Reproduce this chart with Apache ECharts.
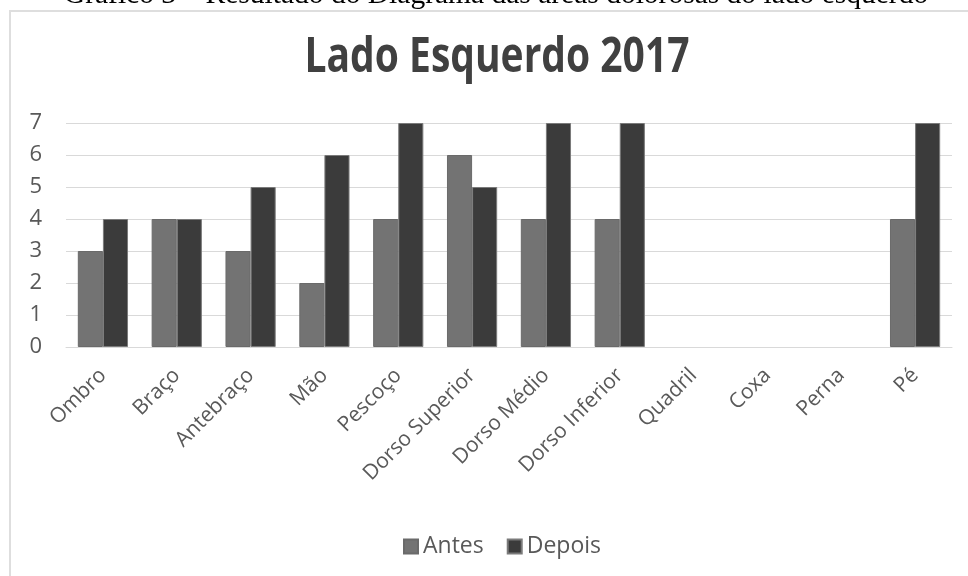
<!DOCTYPE html>
<html>
<head>
<meta charset="utf-8">
<script src="https://cdn.jsdelivr.net/npm/echarts@6/dist/echarts.min.js"></script>
<style>
html,body{margin:0;padding:0;background:#fff;}
#c{width:968px;height:576px;}
</style>
</head>
<body>
<div id="c"></div>
<script>
var caption = 'Gráfico 3 – Resultado do Diagrama das áreas dolorosas do lado esquerdo';
var chartTitle = 'Lado Esquerdo 2017';
var categories = ['Ombro','Braço','Antebraço','Mão','Pescoço','Dorso Superior','Dorso Médio','Dorso Inferior','Quadril','Coxa','Perna','Pé'];
var antes  = [3, 4, 3, 2, 4, 6, 4, 4, null, null, null, 4];
var depois = [4, 4, 5, 6, 7, 5, 7, 7, null, null, null, 7];
var yTicks = [0, 1, 2, 3, 4, 5, 6, 7];

var chart = echarts.init(document.getElementById('c'), null, {renderer:'canvas'});
var labelFont = '"Open Sans", sans-serif';
chart.setOption({
  animation: false,
  backgroundColor: '#ffffff',
  graphic: [
    {type:'rect', shape:{x:10, y:11, width:1000, height:620}, style:{fill:'none', stroke:'#dedede', lineWidth:2}, z:-1},
    {type:'text', x:496, y:-20, style:{text:caption, fontFamily:'"Liberation Serif","Times New Roman",serif', fontSize:29.5, fill:'#000', textAlign:'center', textVerticalAlign:'top'}},
    {type:'text', x:497, y:34, scaleY:1.25, style:{text:chartTitle, fontFamily:'"Open Sans",sans-serif', fontWeight:'bold', fontSize:39, fill:'#404040', textAlign:'center', textVerticalAlign:'top'}}
  ],
  grid: {left:66, right:16, top:123, height:224},
  legend: {
    data:['Antes','Depois'], top:530, left:398, icon:'rect', itemWidth:14, itemHeight:14, itemGap:23,
    textStyle:{fontFamily:labelFont, fontSize:23, color:'#595959'}
  },
  xAxis: {
    type:'category', data:categories,
    axisLine:{lineStyle:{color:'#d9d9d9', width:1}},
    axisTick:{show:false},
    axisLabel:{rotate:45, interval:0, margin:25, fontFamily:labelFont, fontSize:21, color:'#595959'}
  },
  yAxis: {
    type:'value', min:0, max:7, interval:1,
    axisLine:{show:false}, axisTick:{show:false},
    splitLine:{lineStyle:{color:'#d9d9d9', width:1}},
    axisLabel:{margin:24, fontFamily:labelFont, fontSize:22, color:'#595959',
      formatter:function(v){return yTicks.indexOf(v)>=0 ? String(v) : '';}}
  },
  series: [
    {name:'Antes', type:'bar', data:antes, barGap:'0%', barCategoryGap:'32%',
     itemStyle:{color:'#737373', borderColor:'#6a6a6a', borderWidth:1}},
    {name:'Depois', type:'bar', data:depois, barGap:'0%', barCategoryGap:'32%',
     itemStyle:{color:'#3b3b3b', borderColor:'#7a7a7a', borderWidth:1}}
  ]
});
</script>
</body>
</html>
